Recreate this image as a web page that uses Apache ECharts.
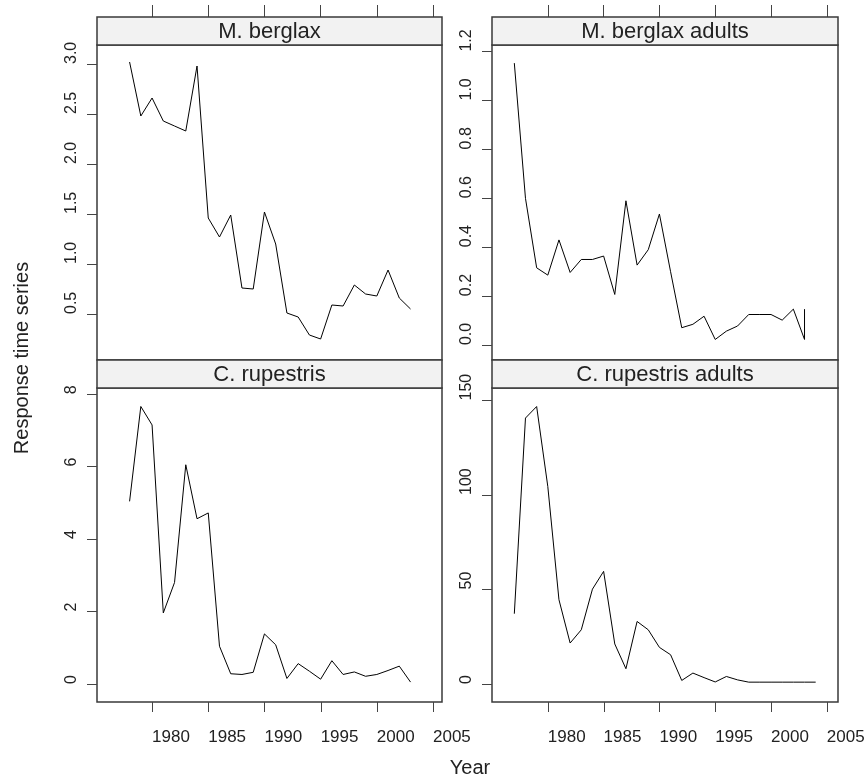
<!DOCTYPE html>
<html>
<head>
<meta charset="utf-8">
<script src="https://cdn.jsdelivr.net/npm/echarts@6/dist/echarts.min.js"></script>
<style>
  html, body { margin: 0; padding: 0; background: #fff; }
  #chart { width: 868px; height: 784px; }
</style>
</head>
<body>
<div id="chart"></div>
<script>
// panel titles, axis names
const panelTitles = ["M. berglax", "M. berglax adults", "C. rupestris", "C. rupestris adults"];
const xName = "Year";
const yName = "Response time series";

// years per series
const yearsBerglax = [1978, 1979, 1980, 1981, 1982, 1983, 1984, 1985, 1986, 1987, 1988, 1989, 1990,
  1991, 1992, 1993, 1994, 1995, 1996, 1997, 1998, 1999, 2000, 2001, 2002, 2003];
const yearsBerglaxAdults = [1977, 1978, 1979, 1980, 1981, 1982, 1983, 1984, 1985, 1986, 1987, 1988, 1989,
  1990, 1991, 1992, 1993, 1994, 1995, 1996, 1997, 1998, 1999, 2000, 2001, 2002, 2003, 2003];
const yearsRupestris = [1978, 1979, 1980, 1981, 1982, 1983, 1984, 1985, 1986, 1987, 1988, 1989, 1990,
  1991, 1992, 1993, 1994, 1995, 1996, 1997, 1998, 1999, 2000, 2001, 2002, 2003];
const yearsRupestrisAdults = [1977, 1978, 1979, 1980, 1981, 1982, 1983, 1984, 1985, 1986, 1987, 1988, 1989,
  1990, 1991, 1992, 1993, 1994, 1995, 1996, 1997, 1998, 1999, 2000, 2001, 2002, 2003, 2004];

// values
const berglax = [3.02, 2.48, 2.66, 2.43, 2.38, 2.33, 2.98, 1.46, 1.27, 1.49, 0.76, 0.75, 1.52,
  1.20, 0.51, 0.47, 0.29, 0.25, 0.59, 0.58, 0.79, 0.70, 0.68, 0.94, 0.66, 0.55];
const berglaxAdults = [1.153, 0.60, 0.316, 0.286, 0.43, 0.297, 0.35, 0.35, 0.364, 0.207, 0.59, 0.327, 0.39,
  0.536, 0.30, 0.071, 0.085, 0.118, 0.023, 0.057, 0.078, 0.125, 0.125, 0.125, 0.102, 0.147, 0.023, 0.147];
const rupestris = [5.04, 7.66, 7.15, 1.96, 2.80, 6.05, 4.56, 4.72, 1.04, 0.28, 0.26, 0.32, 1.38,
  1.08, 0.15, 0.56, 0.35, 0.13, 0.64, 0.26, 0.33, 0.21, 0.26, 0.37, 0.49, 0.05];
const rupestrisAdults = [37.2, 140.7, 146.8, 104.5, 44.6, 21.7, 28.7, 50.2, 59.6, 21.2, 8.1, 33.1, 28.7,
  19.4, 15.5, 1.9, 5.8, 3.4, 1.1, 4.0, 2.2, 1.0, 1.0, 1.0, 1.0, 1.0, 1.0, 1.0];

// tick labels
const yearTicks = [1980, 1985, 1990, 1995, 2000, 2005];
const ticksBerglax = [0.5, 1.0, 1.5, 2.0, 2.5, 3.0];
const ticksBerglaxAdults = [0.0, 0.2, 0.4, 0.6, 0.8, 1.0, 1.2];
const ticksRupestris = [0, 2, 4, 6, 8];
const ticksRupestrisAdults = [0, 50, 100, 150];

const font = '"Liberation Sans", Arial, Helvetica, sans-serif';

const panels = [
  { years: yearsBerglax, values: berglax, ticks: ticksBerglax, dec: 1, yMin: 0.04, yMax: 3.19,
    left: 97, top: 45, width: 345, height: 315, stripTop: 17, xMin: 1975.1, xMax: 2005.8, bottom: false },
  { years: yearsBerglaxAdults, values: berglaxAdults, ticks: ticksBerglaxAdults, dec: 1, yMin: -0.061, yMax: 1.227,
    left: 492, top: 45, width: 346, height: 315, stripTop: 17, xMin: 1975.0, xMax: 2006.0, bottom: false },
  { years: yearsRupestris, values: rupestris, ticks: ticksRupestris, dec: 0, yMin: -0.5, yMax: 8.17,
    left: 97, top: 388, width: 345, height: 314, stripTop: 360, xMin: 1975.1, xMax: 2005.8, bottom: true },
  { years: yearsRupestrisAdults, values: rupestrisAdults, ticks: ticksRupestrisAdults, dec: 0, yMin: -9.5, yMax: 156.6,
    left: 492, top: 388, width: 346, height: 314, stripTop: 360, xMin: 1975.0, xMax: 2006.0, bottom: true }
];

const grid = [], xAxis = [], yAxis = [], series = [], graphic = [];

panels.forEach((p, i) => {
  grid.push({
    left: p.left, top: p.top, width: p.width, height: p.height,
    show: true, borderColor: "#3a3a3a", borderWidth: 1.5, backgroundColor: "#fff"
  });
  xAxis.push({
    type: "value", gridIndex: i, min: p.xMin, max: p.xMax, position: "bottom",
    axisLine: { show: false, onZero: false }, splitLine: { show: false }, axisTick: { show: false },
    axisLabel: {
      show: p.bottom, customValues: yearTicks, align: "left", margin: 27,
      fontSize: 17, fontFamily: font, color: "#222",
      formatter: v => String(v)
    }
  });
  yAxis.push({
    type: "value", gridIndex: i, min: p.yMin, max: p.yMax,
    axisLine: { show: false, onZero: false }, splitLine: { show: false },
    axisTick: { show: true, length: 10, customValues: p.ticks, lineStyle: { color: "#444" } },
    axisLabel: {
      customValues: p.ticks, rotate: 90, align: "left", verticalAlign: "bottom", margin: 17,
      fontSize: 16, fontFamily: font, color: "#222",
      formatter: v => v.toFixed(p.dec)
    }
  });
  series.push({
    type: "line", xAxisIndex: i, yAxisIndex: i,
    data: p.years.map((y, k) => [y, p.values[k]]),
    showSymbol: false, symbol: "none", animation: false,
    lineStyle: { color: "#000", width: 1 }
  });
  // strip
  graphic.push({
    type: "rect", z: 100,
    shape: { x: p.left, y: p.stripTop, width: p.width, height: p.top - p.stripTop },
    style: { fill: "#f2f2f2", stroke: "#3a3a3a", lineWidth: 1.5 }
  });
  graphic.push({
    type: "text", z: 101, x: p.left + p.width / 2, y: p.stripTop + 15,
    style: { text: panelTitles[i], fontSize: 22, fontFamily: font, fill: "#222", align: "center", verticalAlign: "middle" }
  });
});

// tick-only x axes above the strips of the top row
[0, 1].forEach(i => {
  const p = panels[i];
  xAxis.push({
    type: "value", gridIndex: i, min: p.xMin, max: p.xMax,
    position: "top", offset: p.top - p.stripTop,
    axisLine: { show: false, onZero: false }, splitLine: { show: false }, axisLabel: { show: false },
    axisTick: { show: true, length: 12, customValues: yearTicks, lineStyle: { color: "#444" } }
  });
});

graphic.push({
  type: "text", x: 470, y: 768,
  style: { text: xName, fontSize: 20, fontFamily: font, fill: "#222", align: "center", verticalAlign: "middle" }
});
graphic.push({
  type: "text", x: 22, y: 358, rotation: Math.PI / 2,
  style: { text: yName, fontSize: 20, fontFamily: font, fill: "#222", align: "center", verticalAlign: "middle" }
});

const chart = echarts.init(document.getElementById("chart"));
chart.setOption({
  animation: false,
  backgroundColor: "#fff",
  grid, xAxis, yAxis, series, graphic
});

// bottom row year ticks, placed through the x axis scale of each panel
panels.forEach((p, i) => {
  if (!p.bottom) return;
  const yBase = p.top + p.height;
  yearTicks.forEach(yr => {
    const x = Math.round(chart.convertToPixel({ xAxisIndex: i }, yr)) + 0.5;
    graphic.push({
      type: "line", z: 50,
      shape: { x1: x, y1: yBase, x2: x, y2: yBase + 10 },
      style: { stroke: "#444", lineWidth: 1 }
    });
  });
});
chart.setOption({ graphic });
</script>
</body>
</html>
